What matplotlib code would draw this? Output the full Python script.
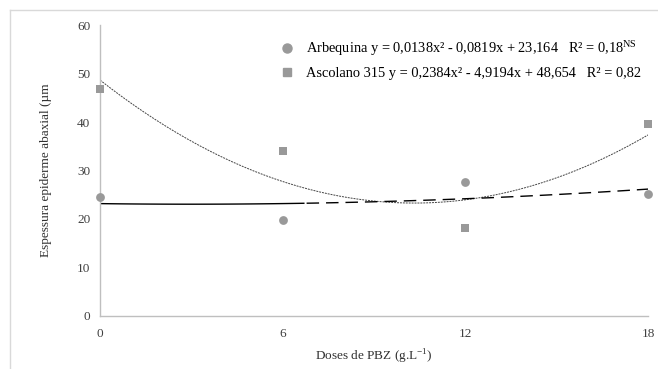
import numpy as np
import matplotlib
matplotlib.use("Agg")
import matplotlib.pyplot as plt
from matplotlib.lines import Line2D

plt.rcParams["font.family"] = ["Liberation Serif", "DejaVu Serif"]
plt.rcParams["mathtext.fontset"] = "custom"
plt.rcParams["mathtext.rm"] = "Liberation Serif"

# data
doses = [0, 6, 12, 18]
arbequina = [24.5, 19.7, 27.7, 25.2]
ascolano = [46.8, 34.0, 18.2, 39.5]

# trend line coefficients (from the legend equations)
arbequina_coef = [0.0138, -0.0819, 23.164]
ascolano_coef = [0.2384, -4.9194, 48.654]

labels = [
    "Arbequina y = 0,0138x² - 0,0819x + 23,164   R² = 0,18$^{\\mathrm{NS}}$",
    "Ascolano 315 y = 0,2384x² - 4,9194x + 48,654   R² = 0,82",
]
xticks = [0, 6, 12, 18]
yticks = [0, 10, 20, 30, 40, 50, 60]

fig = plt.figure(figsize=(6.58, 3.69), dpi=100)
ax = fig.add_axes([0.152, 0.144, 0.833, 0.788])

grey = "#999999"

# trend lines
xs = np.linspace(0, 18, 200)
ax.plot(xs, np.polyval(ascolano_coef, xs), color="#444444", lw=0.7,
        linestyle=(0, (2, 1)))
xa = xs[xs <= 6.7]
xb = xs[xs >= 6.7]
ax.plot(xa, np.polyval(arbequina_coef, xa), color="black", lw=1.0)
ax.plot(xb, np.polyval(arbequina_coef, xb), color="black", lw=1.0,
        linestyle=(0, (9, 5)))

# points
ax.scatter(doses, arbequina, marker="o", s=40, color=grey, zorder=3,
           clip_on=False, linewidths=0)
ax.scatter(doses, ascolano, marker="s", s=30, color=grey, zorder=3,
           clip_on=False, linewidths=0)

ax.set_xlim(0, 18)
ax.set_ylim(0, 60)
ax.set_xticks(xticks)
ax.set_yticks(yticks)
ax.tick_params(length=0, labelsize=9.5, colors="#404040", pad=7)
ax.tick_params(axis="x", pad=9)
for side in ["top", "right"]:
    ax.spines[side].set_visible(False)
for side in ["left", "bottom"]:
    ax.spines[side].set_color("#bfbfbf")
    ax.spines[side].set_linewidth(1.0)

ax.set_xlabel("Doses de PBZ (g.L$^{-1}$)", fontsize=9.5, color="#303030",
              labelpad=5)
ax.set_ylabel("Espessura epiderme abaxial (µm", fontsize=9.5,
              color="#303030", labelpad=18)

handles = [
    Line2D([], [], marker="o", color=grey, linestyle="none", markersize=6.5),
    Line2D([], [], marker="s", color=grey, linestyle="none", markersize=5.5),
]
ax.legend(handles, labels, loc="upper left", bbox_to_anchor=(0.405, 0.912),
          bbox_transform=fig.transFigure, frameon=False, fontsize=10.4,
          handletextpad=0.35, labelspacing=0.6, borderaxespad=0)

# outer frame lines (top and left of chart area)
fig.add_artist(Line2D([0.015, 1.0], [0.973, 0.973], color="#d9d9d9", lw=1.0,
                      transform=fig.transFigure))
fig.add_artist(Line2D([0.015, 0.015], [0.0, 0.973], color="#d9d9d9", lw=1.0,
                      transform=fig.transFigure))

fig.savefig("out.png", dpi=100)
